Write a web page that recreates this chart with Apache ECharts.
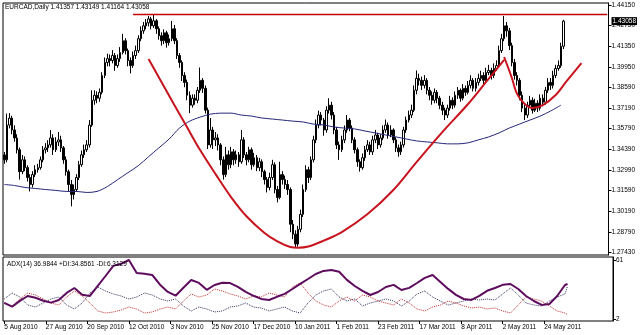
<!DOCTYPE html>
<html><head><meta charset="utf-8">
<script src="https://cdn.jsdelivr.net/npm/echarts@6/dist/echarts.min.js"></script>
<style>html,body{margin:0;padding:0;background:#fff}#c{width:640px;height:335px}</style>
</head><body><div id="c"></div>
<script>
// ---- tick labels ----
const dateLabels = ['5 Aug 2010','27 Aug 2010','20 Sep 2010','12 Oct 2010','3 Nov 2010','25 Nov 2010','17 Dec 2010','10 Jan 2011','1 Feb 2011','23 Feb 2011','17 Mar 2011','8 Apr 2011','2 May 2011','24 May 2011'];
const dateLabelEvery = 16;
const priceTicks = [1.27430,1.28790,1.30190,1.31590,1.32990,1.34390,1.35790,1.37190,1.38590,1.39950,1.41350,1.42750,1.44150];
const lastPrice = [1.43058];
const adxTicks = [2, 61];
const slotCount = 235;

// ---- daily bars ----
const opens = [1.3400,1.3367,1.3602,1.3649,1.3569,1.3515,1.3435,1.3287,1.3367,1.3314,
1.3247,1.3200,1.3267,1.3300,1.3314,1.3367,1.3435,1.3448,1.3468,1.3515,
1.3435,1.3488,1.3502,1.3448,1.3367,1.3287,1.3200,1.3132,1.3166,1.3247,
1.3334,1.3401,1.3435,1.3468,1.3602,1.3770,1.3804,1.3784,1.3824,1.3938,
1.4026,1.4052,1.4039,1.4073,1.4005,1.4052,1.4093,1.4173,1.4106,1.4039,
1.4005,1.4073,1.4106,1.4187,1.4240,1.4274,1.4294,1.4321,1.4274,1.4308,
1.4254,1.4207,1.4173,1.4227,1.4160,1.4187,1.4254,1.4173,1.4073,1.4026,
1.3938,1.3891,1.3804,1.3737,1.3784,1.3770,1.3838,1.3905,1.3851,1.3703,
1.3468,1.3569,1.3502,1.3515,1.3468,1.3367,1.3267,1.3401,1.3334,1.3421,
1.3367,1.3401,1.3354,1.3502,1.3401,1.3367,1.3435,1.3334,1.3381,1.3314,
1.3354,1.3287,1.3233,1.3180,1.3247,1.3334,1.3166,1.3112,1.3267,1.3233,
1.3200,1.3166,1.2931,1.2864,1.2797,1.2897,1.2998,1.3166,1.3300,1.3247,
1.3367,1.3502,1.3602,1.3670,1.3636,1.3569,1.3703,1.3737,1.3670,1.3569,
1.3468,1.3435,1.3502,1.3569,1.3636,1.3582,1.3502,1.3435,1.3354,1.3314,
1.3381,1.3435,1.3468,1.3421,1.3502,1.3535,1.3468,1.3515,1.3569,1.3602,
1.3535,1.3569,1.3502,1.3448,1.3421,1.3468,1.3569,1.3636,1.3670,1.3703,
1.3838,1.3918,1.3905,1.3871,1.3905,1.3838,1.3804,1.3770,1.3824,1.3784,
1.3737,1.3703,1.3670,1.3717,1.3770,1.3737,1.3804,1.3838,1.3784,1.3851,
1.3824,1.3871,1.3905,1.3851,1.3891,1.3918,1.3938,1.3905,1.3958,1.3972,
1.3938,1.3985,1.4005,1.4106,1.4187,1.4274,1.4240,1.4140,1.4026,1.3938,
1.3905,1.3804,1.3717,1.3670,1.3737,1.3770,1.3703,1.3750,1.3717,1.3784,
1.3757,1.3838,1.3891,1.3871,1.3938,1.3985,1.4005,1.41357];
const closes = [1.3367,1.3602,1.3649,1.3569,1.3515,1.3435,1.3287,1.3367,1.3314,1.3247,
1.3200,1.3267,1.3300,1.3314,1.3367,1.3435,1.3448,1.3468,1.3515,1.3435,
1.3488,1.3502,1.3448,1.3367,1.3287,1.3200,1.3132,1.3166,1.3247,1.3334,
1.3401,1.3435,1.3468,1.3602,1.3770,1.3804,1.3784,1.3824,1.3938,1.4026,
1.4052,1.4039,1.4073,1.4005,1.4052,1.4093,1.4173,1.4106,1.4039,1.4005,
1.4073,1.4106,1.4187,1.4240,1.4274,1.4294,1.4321,1.4274,1.4308,1.4254,
1.4207,1.4173,1.4227,1.4160,1.4187,1.4254,1.4173,1.4073,1.4026,1.3938,
1.3891,1.3804,1.3737,1.3784,1.3770,1.3838,1.3905,1.3851,1.3703,1.3468,
1.3569,1.3502,1.3515,1.3468,1.3367,1.3267,1.3401,1.3334,1.3421,1.3367,
1.3401,1.3354,1.3502,1.3401,1.3367,1.3435,1.3334,1.3381,1.3314,1.3354,
1.3287,1.3233,1.3180,1.3247,1.3334,1.3166,1.3112,1.3267,1.3233,1.3200,
1.3166,1.2931,1.2864,1.2797,1.2897,1.2998,1.3166,1.3300,1.3247,1.3367,
1.3502,1.3602,1.3670,1.3636,1.3569,1.3703,1.3737,1.3670,1.3569,1.3468,
1.3435,1.3502,1.3569,1.3636,1.3582,1.3502,1.3435,1.3354,1.3314,1.3381,
1.3435,1.3468,1.3421,1.3502,1.3535,1.3468,1.3515,1.3569,1.3602,1.3535,
1.3569,1.3502,1.3448,1.3421,1.3468,1.3569,1.3636,1.3670,1.3703,1.3838,
1.3918,1.3905,1.3871,1.3905,1.3838,1.3804,1.3770,1.3824,1.3784,1.3737,
1.3703,1.3670,1.3717,1.3770,1.3737,1.3804,1.3838,1.3784,1.3851,1.3824,
1.3871,1.3905,1.3851,1.3891,1.3918,1.3938,1.3905,1.3958,1.3972,1.3938,
1.3985,1.4005,1.4106,1.4187,1.4274,1.4240,1.4140,1.4026,1.3938,1.3905,
1.3804,1.3717,1.3670,1.3737,1.3770,1.3703,1.3750,1.3717,1.3784,1.3757,
1.3838,1.3891,1.3871,1.3938,1.3985,1.4005,1.41357,1.43058];
const highs = [1.3420,1.3680,1.3683,1.3665,1.3600,1.3540,1.3450,1.3400,1.3390,1.3330,
1.3270,1.3290,1.3330,1.3340,1.3390,1.3460,1.3480,1.3500,1.3569,1.3540,
1.3520,1.3555,1.3530,1.3460,1.3390,1.3300,1.3230,1.3200,1.3270,1.3360,
1.3430,1.3470,1.3500,1.3636,1.3838,1.3838,1.3830,1.3850,1.3960,1.4060,
1.4086,1.4080,1.4110,1.4090,1.4080,1.4130,1.4220,1.4190,1.4120,1.4060,
1.4100,1.4140,1.4210,1.4270,1.4300,1.4320,1.4341,1.4335,1.4348,1.4320,
1.4270,1.4230,1.4250,1.4240,1.4215,1.4307,1.4280,1.4190,1.4090,1.4040,
1.3960,1.3910,1.3830,1.3810,1.3810,1.3860,1.3992,1.3920,1.3870,1.3720,
1.3650,1.3590,1.3555,1.3540,1.3480,1.3390,1.3455,1.3430,1.3455,1.3440,
1.3430,1.3420,1.3569,1.3520,1.3420,1.3455,1.3450,1.3414,1.3400,1.3380,
1.3370,1.3300,1.3250,1.3280,1.3367,1.3350,1.3190,1.3354,1.3290,1.3260,
1.3230,1.3180,1.2960,1.2890,1.2920,1.3030,1.3200,1.3330,1.3320,1.3390,
1.3530,1.3640,1.3700,1.3690,1.3650,1.3730,1.3784,1.3760,1.3690,1.3590,
1.3490,1.3530,1.3600,1.3670,1.3650,1.3600,1.3520,1.3450,1.3370,1.3410,
1.3460,1.3500,1.3490,1.3530,1.3569,1.3550,1.3540,1.3600,1.3640,1.3620,
1.3600,1.3580,1.3520,1.3470,1.3490,1.3590,1.3660,1.3700,1.3740,1.3870,
1.3972,1.3950,1.3930,1.3940,1.3920,1.3860,1.3830,1.3850,1.3840,1.3800,
1.3760,1.3720,1.3740,1.3800,1.3790,1.3830,1.3860,1.3850,1.3880,1.3870,
1.3900,1.3940,1.3920,1.3920,1.3950,1.3970,1.3960,1.3990,1.4010,1.3990,
1.4020,1.4040,1.4140,1.4220,1.4341,1.4300,1.4260,1.4160,1.4050,1.3960,
1.3920,1.3830,1.3740,1.3760,1.3800,1.3790,1.3780,1.3770,1.3810,1.3810,
1.3860,1.3920,1.3920,1.3970,1.4010,1.4040,1.4160,1.43149];
const lows = [1.3340,1.3350,1.3580,1.3540,1.3490,1.3410,1.3233,1.3270,1.3290,1.3220,
1.3153,1.3180,1.3250,1.3280,1.3300,1.3350,1.3410,1.3420,1.3450,1.3400,
1.3420,1.3460,1.3420,1.3340,1.3260,1.3150,1.3052,1.3099,1.3150,1.3230,
1.3320,1.3380,1.3420,1.3450,1.3590,1.3740,1.3750,1.3760,1.3810,1.3920,
1.4000,1.4000,1.4020,1.3970,1.3990,1.4030,1.4080,1.4080,1.4000,1.3952,
1.3990,1.4050,1.4090,1.4170,1.4220,1.4250,1.4270,1.4250,1.4260,1.4220,
1.4180,1.4140,1.4150,1.4126,1.4140,1.4170,1.4150,1.4050,1.3990,1.3900,
1.3858,1.3770,1.3683,1.3720,1.3740,1.3750,1.3820,1.3820,1.3680,1.3440,
1.3450,1.3440,1.3460,1.3430,1.3330,1.3233,1.3250,1.3300,1.3310,1.3330,
1.3340,1.3320,1.3340,1.3380,1.3330,1.3350,1.3300,1.3320,1.3290,1.3290,
1.3250,1.3200,1.3146,1.3160,1.3230,1.3140,1.3079,1.3100,1.3200,1.3170,
1.3130,1.2877,1.2830,1.2776,1.2780,1.2877,1.2980,1.3150,1.3210,1.3230,
1.3350,1.3480,1.3580,1.3600,1.3530,1.3550,1.3680,1.3640,1.3540,1.3440,
1.3367,1.3420,1.3480,1.3550,1.3560,1.3480,1.3410,1.3320,1.3287,1.3300,
1.3360,1.3420,1.3400,1.3400,1.3480,1.3440,1.3450,1.3500,1.3550,1.3510,
1.3520,1.3480,1.3420,1.3388,1.3400,1.3450,1.3550,1.3620,1.3650,1.3690,
1.3810,1.3870,1.3840,1.3850,1.3810,1.3770,1.3740,1.3750,1.3750,1.3710,
1.3670,1.3636,1.3650,1.3700,1.3710,1.3720,1.3780,1.3760,1.3770,1.3800,
1.3810,1.3850,1.3830,1.3830,1.3870,1.3900,1.3880,1.3890,1.3940,1.3910,
1.3920,1.3970,1.3990,1.4090,1.4170,1.4200,1.4110,1.4000,1.3910,1.3870,
1.3770,1.3690,1.3636,1.3650,1.3720,1.3680,1.3690,1.3690,1.3700,1.3730,
1.3740,1.3820,1.3840,1.3850,1.3920,1.3970,1.3990,1.41164];

// ---- moving average, read every 4 bars ----
const maStep = 4;
const maValues = [1.3200,1.3193,1.3180,1.3173,1.3166,1.3160,1.3153,1.3153,1.3146,1.3153,
1.3186,1.3233,1.3280,1.3327,1.3388,1.3448,1.3508,1.3582,1.3629,1.3656,
1.3676,1.3683,1.3683,1.3670,1.3663,1.3650,1.3643,1.3636,1.3629,1.3623,
1.3609,1.3603,1.3589,1.3582,1.3576,1.3562,1.3549,1.3535,1.3522,1.3508,
1.3495,1.3488,1.3482,1.3475,1.3475,1.3482,1.3502,1.3522,1.3549,1.3582,
1.3609,1.3636,1.3663,1.3697,1.3737];

// ---- ADX(14), read every 3 bars, plus last bar values ----
const indStep = 3;
const indLastBar = 217;
const adxValues = [18.2,14.3,20.1,25.0,23.2,20.3,18.4,21.0,28.1,33.0,
26.2,25.1,35.2,45.0,55.1,57.2,61.0,48.1,47.2,46.0,
36.3,29.1,25.3,33.2,41.0,38.1,31.2,36.0,38.2,37.9,
34.1,29.2,25.2,22.1,21.0,24.2,27.1,32.0,37.1,42.0,
47.0,50.1,51.0,49.2,41.1,35.0,30.1,26.0,29.0,34.0,
36.1,31.0,33.1,38.0,43.1,46.0,39.1,32.1,26.1,22.0,
21.1,25.1,30.2,33.0,36.2,37.0,32.0,25.0,20.0,16.1,
17.0,25.0,36.0];
const plusDIValues = [22,28,24,16,14,18,22,24,16,12,18,28,34,30,27,25,22,24,28,26,
22,20,22,15,10,14,12,9,10,14,15,18,14,13,10,12,14,10,8,18,
26,30,32,24,20,22,15,18,20,22,20,15,20,27,30,24,20,16,18,20,
22,21,22,21,27,33,26,18,16,15,20,24,27];
const minusDIValues = [18,15,22,28,26,22,18,16,24,30,25,18,10,8,9,11,14,12,8,9,
12,14,12,20,27,24,26,32,30,27,25,22,25,24,28,26,24,34,38,28,
20,16,14,20,24,20,26,24,20,18,16,22,18,12,10,14,16,20,18,15,
13,14,12,13,10,8,16,24,22,20,15,10,8];
const lastIndicator = {adx: 36.9844, plusDI: 34.8561, minusDI: 6.3129};

// ---- drawn objects (bar index, price) ----
const resistanceIdx = [50, 234];
const resistancePrice = [1.4350, 1.4350];
const cupIdx = [56,61,66,71,76,82,88,94,101,106,111,114,118,124,131,141,151,160,170,180,187,194];
const cupPrice = [1.4049,1.3893,1.3738,1.3585,1.3433,1.3270,1.3115,1.2985,1.2872,1.2815,1.2777,1.2772,1.2780,1.2820,1.2878,1.3000,1.3163,1.3352,1.3555,1.3745,1.3894,1.4043];
const handleIdx = [194,197,199,202,205,209,214,218,224];
const handlePrice = [1.4063,1.3921,1.3813,1.3745,1.3718,1.3738,1.3806,1.3894,1.4022];

// ---- build ----
const FONT = 'Liberation Sans';
const FS = 6.5;
const categories = Array.from({length: slotCount}, (_, i) => i);
const candles = closes.map((c, i) => [opens[i], c, lows[i], highs[i]]);
const pairs = (idx, vals) => idx.map((x, k) => [x, vals[k]]);
const stepped = (vals, step) => vals.map((v, k) => [k * step, v]);
const isLabel = (i) => i % dateLabelEvery === 0 && i / dateLabelEvery < dateLabels.length;
const yMin = 1.27227, yMax = 1.44285;

const chart = echarts.init(document.getElementById('c'), null, {renderer: 'canvas'});
chart.setOption({
  animation: false,
  backgroundColor: '#fff',
  title: [
    {text: 'EURCAD,Daily 1.41357 1.43149 1.41164 1.43058', left: 5, top: 4, padding: 0,
     textStyle: {fontSize: FS, fontWeight: 'normal', color: '#000', fontFamily: FONT}},
    {text: 'ADX(14) 36.9844 +DI:34.8561 -DI:6.3129', left: 7, top: 261, padding: 0,
     textStyle: {fontSize: FS, fontWeight: 'normal', color: '#000', fontFamily: FONT}}
  ],
  grid: [
    {left: 3, right: 27, top: 3, height: 252, show: true, borderColor: '#000', borderWidth: 1, backgroundColor: '#fff'},
    {left: 3, right: 27, top: 257, height: 64, show: true, borderColor: '#000', borderWidth: 1, backgroundColor: '#fff'}
  ],
  xAxis: [
    {type: 'category', gridIndex: 0, data: categories, boundaryGap: true,
     axisLine: {show: false}, axisTick: {show: false}, axisLabel: {show: false}, splitLine: {show: false}},
    {type: 'category', gridIndex: 1, data: categories, boundaryGap: true,
     axisLine: {show: false},
     axisTick: {show: true, interval: isLabel, alignWithLabel: true, length: 3, lineStyle: {color: '#000'}},
     axisLabel: {interval: isLabel, formatter: (v) => dateLabels[Number(v) / dateLabelEvery] || '',
       align: 'left', margin: 3, fontSize: FS, color: '#000', fontFamily: FONT},
     splitLine: {show: false}}
  ],
  yAxis: [
    {type: 'value', gridIndex: 0, position: 'right', min: yMin, max: yMax,
     axisLine: {show: true, lineStyle: {color: '#000'}},
     axisTick: {show: true, customValues: priceTicks, length: 3, lineStyle: {color: '#000'}},
     axisLabel: {customValues: priceTicks, formatter: (v) => v.toFixed(5), margin: 3, fontSize: FS, color: '#000', fontFamily: FONT},
     splitLine: {show: false}},
    {type: 'value', gridIndex: 0, position: 'right', min: yMin, max: yMax,
     axisLine: {show: false}, axisTick: {show: false},
     axisLabel: {customValues: lastPrice, formatter: (v) => v.toFixed(5), margin: 3, fontSize: FS,
       color: '#fff', backgroundColor: '#000', padding: [1, 1, 0, 1], fontFamily: FONT},
     splitLine: {show: false}},
    {type: 'value', gridIndex: 1, position: 'right', min: 0, max: 64,
     axisLine: {show: true, lineStyle: {color: '#000'}},
     axisTick: {show: true, customValues: adxTicks, length: 3, lineStyle: {color: '#000'}},
     axisLabel: {customValues: adxTicks, margin: 3, fontSize: FS, color: '#000', fontFamily: FONT},
     splitLine: {show: false}}
  ],
  series: [
    {type: 'candlestick', xAxisIndex: 0, yAxisIndex: 0, data: candles, barWidth: 2,
     itemStyle: {color: '#ffffff', color0: '#000000', borderColor: '#000000', borderColor0: '#000000', borderWidth: 1}},
    {type: 'line', xAxisIndex: 0, yAxisIndex: 0, data: stepped(maValues, maStep), showSymbol: false, smooth: 0.3,
     lineStyle: {color: '#26267a', width: 1}},
    {type: 'line', xAxisIndex: 0, yAxisIndex: 0, data: pairs(resistanceIdx, resistancePrice), showSymbol: false,
     lineStyle: {color: '#c40000', width: 1.5}},
    {type: 'line', xAxisIndex: 0, yAxisIndex: 0, data: pairs(cupIdx, cupPrice), showSymbol: false, smooth: 0.35,
     lineStyle: {color: '#c8141e', width: 2}},
    {type: 'line', xAxisIndex: 0, yAxisIndex: 0, data: pairs(handleIdx, handlePrice), showSymbol: false, smooth: 0.35,
     lineStyle: {color: '#c8141e', width: 2}},
    {type: 'line', xAxisIndex: 1, yAxisIndex: 2, data: stepped(plusDIValues, indStep).concat([[indLastBar, lastIndicator.plusDI]]),
     showSymbol: false, lineStyle: {color: '#34345e', width: 1, type: 'dotted'}},
    {type: 'line', xAxisIndex: 1, yAxisIndex: 2, data: stepped(minusDIValues, indStep).concat([[indLastBar, lastIndicator.minusDI]]),
     showSymbol: false, lineStyle: {color: '#c03030', width: 1, type: 'dotted'}},
    {type: 'line', xAxisIndex: 1, yAxisIndex: 2, data: stepped(adxValues, indStep).concat([[indLastBar, lastIndicator.adx]]),
     showSymbol: false, lineStyle: {color: '#5e0c5e', width: 2}}
  ]
});
</script>
</body></html>
